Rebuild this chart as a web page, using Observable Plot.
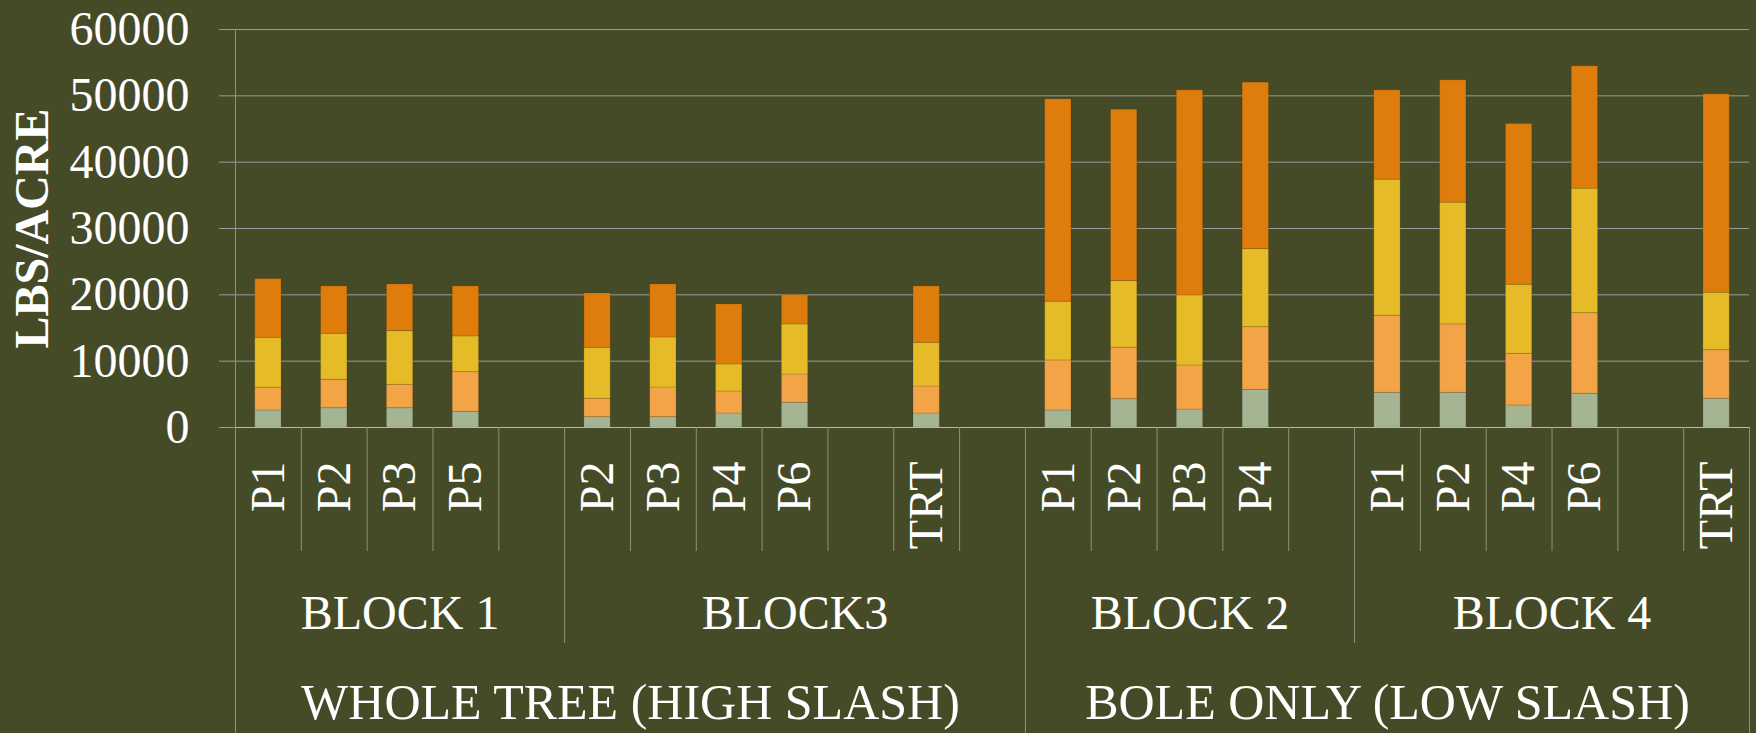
<!DOCTYPE html>
<html>
<head>
<meta charset="utf-8">
<script src="https://cdn.jsdelivr.net/npm/d3@7"></script>
<script src="https://cdn.jsdelivr.net/npm/@observablehq/plot@0.6"></script>
<style>
  html, body { margin: 0; padding: 0; background: #454B27; }
  #chart svg { display: block; }
</style>
</head>
<body>
<div id="chart"></div>
<script>
// ---- Data ----
// Category slots along the x axis (empty string = empty slot)
const slotLabels = ["P1","P2","P3","P5","", "P2","P3","P4","P6","","TRT","", "P1","P2","P3","P4","", "P1","P2","P4","P6","","TRT"];
const blockNames = ["BLOCK 1", "BLOCK3", "BLOCK 2", "BLOCK 4"];
const blockSizes = [5, 7, 5, 6];
const groupNames = ["WHOLE TREE (HIGH SLASH)", "BOLE ONLY (LOW SLASH)"];
const groupBlockCounts = [2, 2];

const seriesNames = ["Series 1", "Series 2", "Series 3", "Series 4"];
const series1 = [2560, 2910, 2910, 2360, null, 1560, 1560, 2110, 3720, null, 2110, null, 2560, 4270, 2710, 5680, null, 5230, 5230, 3320, 5080, null, 4330];
const series2 = [3430, 4280, 3530, 5980, null, 2770, 4470, 3320, 4270, null, 4070, null, 7550, 7750, 6640, 9450, null, 11620, 10310, 7790, 12160, null, 7330];
const series3 = [7540, 6940, 8090, 5390, null, 7690, 7540, 4070, 7550, null, 6590, null, 8850, 10050, 10560, 11760, null, 20510, 18350, 10410, 18760, null, 8660];
const series4 = [8840, 7140, 7040, 7540, null, 8190, 8000, 9050, 4420, null, 8500, null, 30510, 25840, 30920, 25100, null, 13470, 18450, 24230, 18450, null, 29910];
const yTicks = [0, 10000, 20000, 30000, 40000, 50000, 60000];

// ---- Styling ----
const colors = ["#A5B593", "#F2A447", "#E5BB28", "#DE7D0C"];
const BG = "#454B27";
const FONT = "Liberation Serif, Times New Roman, serif";
const BAR_GAP = 0.3; // fraction of slot on each side of a bar

// ---- Build tables ----
const allSeries = [series1, series2, series3, series4];
const rows = [];
slotLabels.forEach((lab, i) => {
  allSeries.forEach((s, k) => {
    if (s[i] != null) rows.push({i, series: seriesNames[k], value: s[i]});
  });
});

const slotRows = slotLabels.map((label, i) => ({i, label})).filter(d => d.label !== "");

const blocks = [];
let pos = 0;
blockNames.forEach((name, b) => {
  blocks.push({name, start: pos, end: pos + blockSizes[b]});
  pos += blockSizes[b];
});
const nSlots = slotLabels.length;

const groups = [];
let bi = 0;
groupNames.forEach((name, g) => {
  const first = blocks[bi], last = blocks[bi + groupBlockCounts[g] - 1];
  groups.push({name, start: first.start, end: last.end});
  bi += groupBlockCounts[g];
});

// boundary positions
const boundaries = d3.range(1, nSlots);
const blockBounds = blocks.map(b => b.start).filter(v => v > 0);
const groupBounds = groups.map(g => g.start).filter(v => v > 0);
const minorBounds = boundaries.filter(v => !blockBounds.includes(v));
const midBounds = blockBounds.filter(v => !groupBounds.includes(v));

const W = 1756, H = 733;
const mT = 29, mB = 306, mL = 235, mR = 7;
const frameH = H - mT - mB;

const sepColor = "#8f907f";
const gridColor = "#9a9a9a";

const plot = Plot.plot({
  width: W,
  height: H,
  marginTop: mT,
  marginBottom: mB,
  marginLeft: mL,
  marginRight: mR,
  style: {background: BG, fontFamily: FONT, color: "white"},
  x: {domain: [0, nSlots], axis: null},
  y: {domain: [0, 60000], axis: null},
  color: {domain: seriesNames, range: colors},
  marks: [
    // gridlines
    Plot.ruleY(yTicks.filter(v => v > 0), {stroke: gridColor, strokeWidth: 1}),
    // y axis with ticks and labels
    Plot.axisY({
      ticks: yTicks,
      tickSize: 16,
      tickPadding: 30,
      tickFormat: d3.format("d"),
      fontSize: 48,
      stroke: gridColor,
      fill: "white",
      label: null
    }),
    // bars
    Plot.rectY(rows, {
      x1: d => d.i + BAR_GAP,
      x2: d => d.i + 1 - BAR_GAP,
      y: "value",
      fill: "series",
      stroke: "#000",
      strokeOpacity: 0.12,
      strokeWidth: 1
    }),
    // baseline
    Plot.ruleY([0], {stroke: "#b8b8b8", strokeWidth: 1.2}),
    // y-axis line, extends down through category area
    Plot.ruleX([0], {stroke: sepColor, insetBottom: -mB}),
    // right end separator
    Plot.ruleX([nSlots], {stroke: sepColor, insetTop: frameH, insetBottom: -mB}),
    // category separators
    Plot.ruleX(minorBounds, {stroke: sepColor, insetTop: frameH, insetBottom: -124}),
    Plot.ruleX(midBounds, {stroke: sepColor, insetTop: frameH, insetBottom: -216}),
    Plot.ruleX(groupBounds, {stroke: sepColor, insetTop: frameH, insetBottom: -mB}),
    // level 1 labels (rotated)
    Plot.text(slotRows, {
      x: d => d.i + 0.5,
      text: "label",
      frameAnchor: "bottom",
      dy: 34,
      rotate: -90,
      textAnchor: "end",
      lineAnchor: "middle",
      fontSize: 48,
      fill: "white"
    }),
    // level 2 labels
    Plot.text(blocks, {
      x: d => (d.start + d.end) / 2,
      text: "name",
      frameAnchor: "bottom",
      dy: 201,
      lineAnchor: "bottom",
      fontSize: 48,
      fill: "white"
    }),
    // level 3 labels
    Plot.text(groups, {
      x: d => (d.start + d.end) / 2,
      text: "name",
      frameAnchor: "bottom",
      dy: 291,
      lineAnchor: "bottom",
      fontSize: 50,
      fill: "white"
    }),
    // y axis title
    Plot.text(["LBS/ACRE"], {
      frameAnchor: "left",
      dx: -203,
      rotate: -90,
      textAnchor: "middle",
      lineAnchor: "middle",
      fontSize: 48,
      fontWeight: "bold",
      fill: "white"
    })
  ]
});

document.getElementById("chart").appendChild(plot);
</script>
</body>
</html>
